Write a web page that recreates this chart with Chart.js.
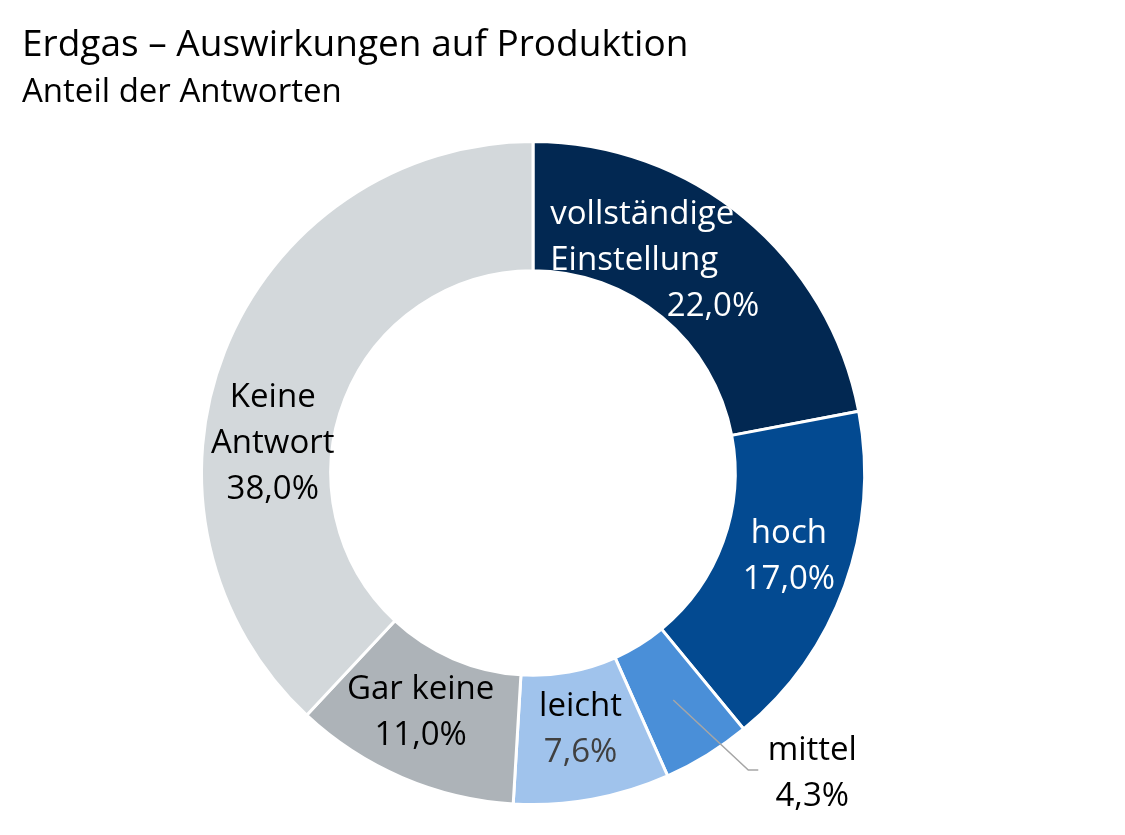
<!DOCTYPE html>
<html lang="de">
<head>
<meta charset="utf-8">
<title>Erdgas – Auswirkungen auf Produktion</title>
<script src="https://cdn.jsdelivr.net/npm/chart.js@4.4.1/dist/chart.umd.min.js"></script>
<style>
  html, body { margin: 0; padding: 0; background: #fff; }
  #wrap { position: relative; width: 1125px; height: 835px; }
</style>
</head>
<body>
<div id="wrap"><canvas id="gasChart"></canvas></div>
<script>
// data
const categories = ['vollständige Einstellung', 'hoch', 'mittel', 'leicht', 'Gar keine', 'Keine Antwort'];
const shares = [22.0, 17.0, 4.3, 7.6, 11.0, 38.0];
const sliceColors = ['#022852', '#034a91', '#4a8fd8', '#a0c3ec', '#adb3b8', '#d3d8db'];

const FONT = '"Open Sans", "Noto Sans", sans-serif';

function fmt(v) {
  return v.toFixed(1).replace('.', ',') + '%';
}

// where each label sits relative to the middle of its ring segment
const labelLayout = [
  { wrap: true, dx: -153, dy: -7, align: 'left', valueAlign: 'right', valueDx: 56, color: '#fff', valueColor: '#fff' },
  { dx: 5, dy: -7, color: '#fff', valueColor: '#fff' },
  { dx: 139, dy: 74, color: '#000', valueColor: '#000', leader: true },
  { dx: 0, dy: -6, color: '#000', valueColor: '#404040' },
  { dx: -7, dy: -6, color: '#000', valueColor: '#000' },
  { wrap: true, dx: -12, dy: 69, color: '#000', valueColor: '#000' }
];

const sliceLabels = {
  id: 'sliceLabels',
  afterDatasetsDraw(chart) {
    const ctx = chart.ctx;
    const meta = chart.getDatasetMeta(0);
    const lineH = 46;
    ctx.save();
    ctx.font = '33px ' + FONT;
    ctx.textBaseline = 'middle';
    meta.data.forEach((arc, i) => {
      const p = arc.getProps(['x', 'y', 'startAngle', 'endAngle', 'innerRadius', 'outerRadius'], true);
      const mid = (p.startAngle + p.endAngle) / 2;
      const r = (p.innerRadius + p.outerRadius) / 2;
      const cx = p.x + Math.cos(mid) * r;
      const cy = p.y + Math.sin(mid) * r;
      const lay = labelLayout[i];
      const name = categories[i];
      const lines = lay.wrap ? name.split(' ') : [name];
      const all = lines.concat([fmt(shares[i])]);
      const bx = cx + lay.dx;
      const by = cy + lay.dy;
      const top = by - (all.length - 1) * lineH / 2;

      if (lay.leader) {
        ctx.strokeStyle = '#a6a6a6';
        ctx.lineWidth = 1.5;
        ctx.beginPath();
        ctx.moveTo(cx, cy);
        ctx.lineTo(bx - 64, by - 4);
        ctx.lineTo(bx - 54, by - 4);
        ctx.stroke();
      }

      all.forEach((t, k) => {
        const isValue = k === all.length - 1;
        let x = bx;
        let align = 'center';
        if (isValue && lay.valueAlign) {
          align = lay.valueAlign;
          x = cx + lay.valueDx;
        } else if (!isValue && lay.align) {
          align = lay.align;
        }
        ctx.textAlign = align;
        ctx.fillStyle = isValue ? lay.valueColor : lay.color;
        ctx.fillText(t, x, top + k * lineH);
      });
    });
    ctx.restore();
  }
};

new Chart(document.getElementById('gasChart').getContext('2d'), {
  type: 'doughnut',
  data: {
    labels: categories,
    datasets: [{
      data: shares,
      backgroundColor: sliceColors,
      borderColor: '#fff',
      borderWidth: 3,
      hoverOffset: 0
    }]
  },
  options: {
    responsive: true,
    maintainAspectRatio: false,
    animation: false,
    cutout: '61%',
    layout: {
      padding: { left: 22, right: 81, top: 0, bottom: 29 }
    },
    plugins: {
      legend: { display: false },
      tooltip: { enabled: false },
      title: {
        display: true,
        text: 'Erdgas – Auswirkungen auf Produktion',
        align: 'start',
        color: '#000',
        font: { family: FONT, size: 37, weight: 'normal' },
        padding: { top: 23, bottom: 0 }
      },
      subtitle: {
        display: true,
        text: 'Anteil der Antworten',
        align: 'start',
        color: '#000',
        font: { family: FONT, size: 33, weight: 'normal' },
        padding: { top: 5, bottom: 28 }
      }
    }
  },
  plugins: [sliceLabels]
});
</script>
</body>
</html>
